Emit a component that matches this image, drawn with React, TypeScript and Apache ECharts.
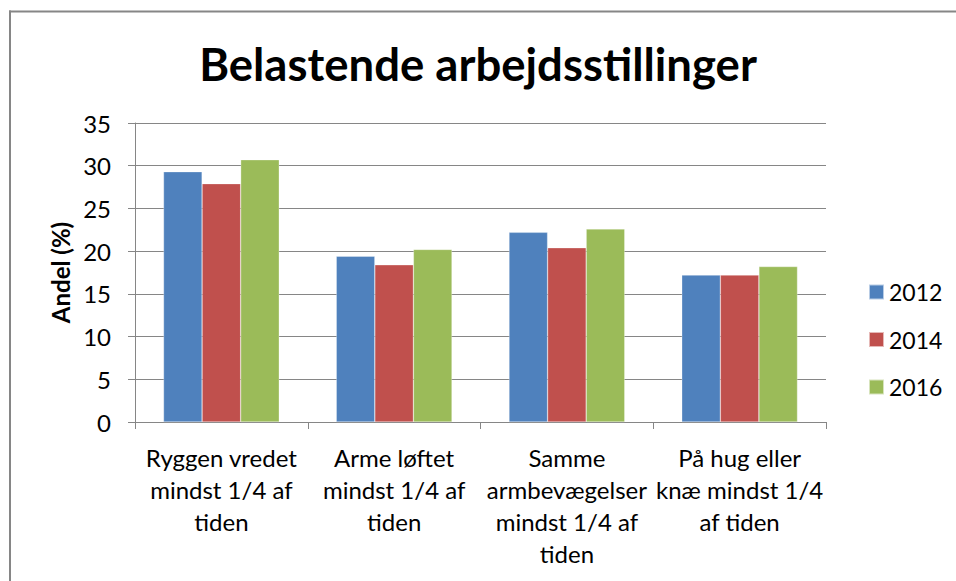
import React, { useEffect, useRef } from "react";
import * as echarts from "echarts";

const title = "Belastende arbejdsstillinger";
const yAxisName = "Andel (%)";
const categories = [
  "Ryggen vredet mindst 1/4 af tiden",
  "Arme løftet mindst 1/4 af tiden",
  "Samme armbevægelser mindst 1/4 af tiden",
  "På hug eller knæ mindst 1/4 af tiden",
];
const categoryLines = [
  ["Ryggen vredet", "mindst 1/4 af", "tiden"],
  ["Arme løftet", "mindst 1/4 af", "tiden"],
  ["Samme", "armbevægelser", "mindst 1/4 af", "tiden"],
  ["På hug eller", "knæ mindst 1/4", "af tiden"],
];
const seriesNames = ["2012", "2014", "2016"];
const values2012 = [29.3, 19.4, 22.2, 17.2];
const values2014 = [27.9, 18.4, 20.4, 17.2];
const values2016 = [30.7, 20.2, 22.6, 18.2];
const colors = ["#4F81BD", "#C0504D", "#9BBB59"];
const yTicks = { min: 0, max: 35, interval: 5 };

const FONT = "Lato";

export default function App() {
  const ref = useRef<HTMLDivElement>(null);
  useEffect(() => {
    document.body.style.margin = "0";
    document.body.style.overflow = "hidden";
    if (!ref.current) return;
    const chart = echarts.init(ref.current, null, { renderer: "svg" });
    const allValues = [values2012, values2014, values2016];
    chart.setOption({
      animation: false,
      textStyle: { fontFamily: FONT, color: "#000" },
      title: {
        text: title,
        left: "center",
        top: 35,
        textStyle: { fontFamily: FONT, fontWeight: "bold", fontSize: 45.5, color: "#000" },
      },
      graphic: [
        {
          type: "line",
          shape: { x1: 10, y1: 10.5, x2: 10, y2: 581 },
          style: { stroke: "#868686", lineWidth: 2 },
          silent: true,
        },
        {
          type: "line",
          shape: { x1: 9, y1: 11.5, x2: 956, y2: 11.5 },
          style: { stroke: "#868686", lineWidth: 2 },
          silent: true,
        },
      ],
      legend: {
        orient: "vertical",
        left: 868,
        top: 280,
        padding: 0,
        itemWidth: 15,
        itemHeight: 15,
        itemGap: 23.5,
        icon: "rect",
        textStyle: { fontFamily: FONT, fontSize: 23, color: "#000", lineHeight: 24 },
        data: seriesNames,
      },
      grid: { left: 135, right: 130, top: 123, bottom: 159, containLabel: false },
      xAxis: {
        type: "category",
        data: categories,
        axisLine: { show: true, lineStyle: { color: "#868686", width: 1 } },
        axisTick: { show: true, length: 7, lineStyle: { color: "#868686" } },
        axisLabel: {
          interval: 0,
          margin: 19,
          fontFamily: FONT,
          fontSize: 24,
          lineHeight: 32,
          color: "#000",
          formatter: (v: string) => {
            const i = categories.indexOf(v);
            return i >= 0 ? categoryLines[i].join("\n") : v;
          },
        },
      },
      yAxis: {
        type: "value",
        min: yTicks.min,
        max: yTicks.max,
        interval: yTicks.interval,
        name: yAxisName,
        nameLocation: "middle",
        nameGap: 63,
        nameTextStyle: { fontFamily: FONT, fontWeight: "bold", fontSize: 24, color: "#000" },
        axisLine: { show: true, lineStyle: { color: "#868686", width: 1 } },
        axisTick: { show: true, length: 7, lineStyle: { color: "#868686" } },
        axisLabel: { margin: 24, fontFamily: FONT, fontSize: 24, color: "#000" },
        splitLine: { show: true, lineStyle: { color: "#868686", width: 1 } },
      },
      series: seriesNames.map((name, i) => ({
        name,
        type: "bar",
        data: allValues[i],
        barGap: "0%",
        barCategoryGap: "33%",
        itemStyle: { color: colors[i], borderColor: "rgba(255,255,255,0.6)", borderWidth: 0.5 },
      })),
    });
    return () => chart.dispose();
  }, []);
  return <div ref={ref} style={{ width: 956, height: 581 }} />;
}
